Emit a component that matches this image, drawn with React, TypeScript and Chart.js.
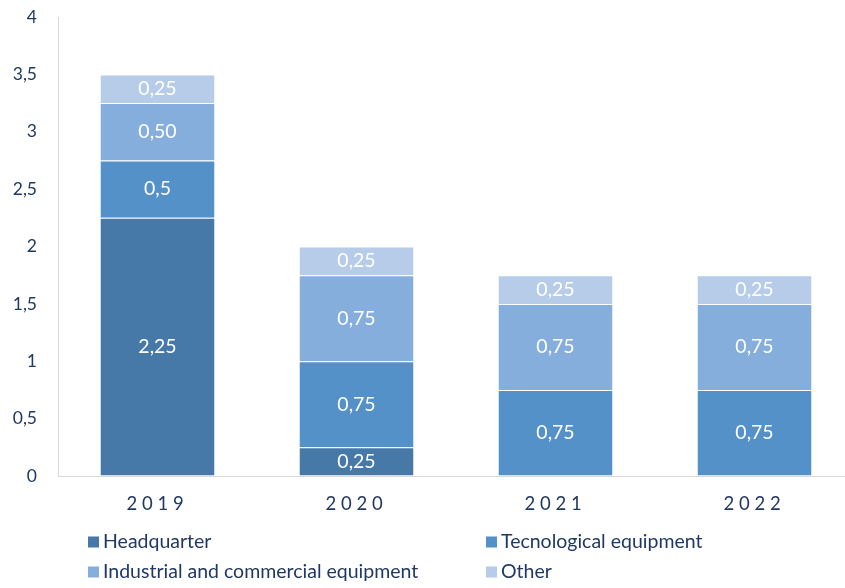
import React, { useEffect, useRef } from "react";
import { Chart, registerables } from "chart.js";

Chart.register(...registerables);

const categories = ["2019", "2020", "2021", "2022"];
const seriesNames = [
  "Headquarter",
  "Tecnological equipment",
  "Industrial and commercial equipment",
  "Other",
];
const headquarter = [2.25, 0.25, null, null];
const tecnological = [0.5, 0.75, 0.75, 0.75];
const industrial = [0.5, 0.75, 0.75, 0.75];
const other = [0.25, 0.25, 0.25, 0.25];

const headquarterLabels = ["2,25", "0,25", "", ""];
const tecnologicalLabels = ["0,5", "0,75", "0,75", "0,75"];
const industrialLabels = ["0,50", "0,75", "0,75", "0,75"];
const otherLabels = ["0,25", "0,25", "0,25", "0,25"];

const yTickLabels = ["0", "0,5", "1", "1,5", "2", "2,5", "3", "3,5", "4"];

const colors = ["#4679A8", "#5491C8", "#85AEDC", "#B6CCE8"];
const FONT = "Lato, 'Open Sans', sans-serif";
const NAVY = "#1F3864";

const valueLabelPlugin = {
  id: "valueLabels",
  afterDatasetsDraw(chart: any) {
    const ctx = chart.ctx;
    ctx.save();
    ctx.font = `19.5px ${FONT}`;
    ctx.fillStyle = "#FFFFFF";
    ctx.textAlign = "center";
    ctx.textBaseline = "middle";
    chart.data.datasets.forEach((ds: any, di: number) => {
      const meta = chart.getDatasetMeta(di);
      meta.data.forEach((el: any, i: number) => {
        const lab = ds.valueLabels[i];
        if (!lab) return;
        ctx.fillText(lab, el.x, (el.y + el.base) / 2);
      });
    });
    ctx.restore();
  },
};

const gridLegendPlugin = {
  id: "gridLegend",
  afterDraw(chart: any) {
    const ctx = chart.ctx;
    const colX = [88, 486];
    const rowY = [542, 572];
    ctx.save();
    ctx.font = `19.5px ${FONT}`;
    ctx.textBaseline = "middle";
    ctx.textAlign = "left";
    chart.data.datasets.forEach((ds: any, i: number) => {
      const x = colX[i % 2];
      const y = rowY[Math.floor(i / 2)];
      ctx.fillStyle = ds.backgroundColor;
      ctx.fillRect(x, y - 5.5, 11, 11);
      ctx.fillStyle = NAVY;
      ctx.fillText(ds.label, x + 15, y);
    });
    ctx.restore();
  },
};

export default function App() {
  const ref = useRef<HTMLCanvasElement>(null);
  useEffect(() => {
    if (!ref.current) return;
    const series = [headquarter, tecnological, industrial, other];
    const labels = [headquarterLabels, tecnologicalLabels, industrialLabels, otherLabels];
    const chart = new Chart(ref.current, {
      type: "bar",
      data: {
        labels: categories,
        datasets: series.map((d, i) => ({
          label: seriesNames[i],
          data: d,
          backgroundColor: colors[i],
          borderColor: "rgba(255,255,255,0.45)",
          borderWidth: { top: 1, bottom: 0, left: 0, right: 0 },
          borderSkipped: false,
          categoryPercentage: 1,
          barPercentage: 0.573,
          valueLabels: labels[i],
        })) as any,
      },
      options: {
        responsive: false,
        animation: false,
        layout: { padding: { top: 17, right: 2, bottom: 72, left: 0 } },
        plugins: {
          legend: { display: false },
          tooltip: { enabled: false },
        },
        scales: {
          x: {
            stacked: true,
            grid: { color: "transparent", drawTicks: false },
            border: { display: true, color: "#D9D9D9", width: 1 },
            ticks: {
              color: NAVY,
              font: { family: FONT, size: 18.5 },
              padding: 17,
              callback: (_v: any, i: number) => categories[i].split("").join(" ") + " ",
            },
            afterFit: (s: any) => {
              s.height = 40;
            },
          },
          y: {
            stacked: true,
            min: 0,
            max: 4,
            grid: { color: "transparent", drawTicks: false },
            border: { display: true, color: "#D9D9D9", width: 1 },
            ticks: {
              stepSize: 0.5,
              color: NAVY,
              font: { family: FONT, size: 17.5 },
              padding: 21,
              callback: (_v: any, i: number) => yTickLabels[i],
            },
            afterFit: (s: any) => {
              s.width = 58;
              s.paddingTop = 0;
              s.paddingBottom = 0;
            },
          },
        },
      },
      plugins: [valueLabelPlugin, gridLegendPlugin],
    });
    return () => chart.destroy();
  }, []);
  return (
    <div style={{ position: "fixed", left: 0, top: 0, width: 845, height: 588, overflow: "hidden", background: "#fff" }}>
      <canvas ref={ref} width={856} height={588} style={{ display: "block" }} />
    </div>
  );
}
